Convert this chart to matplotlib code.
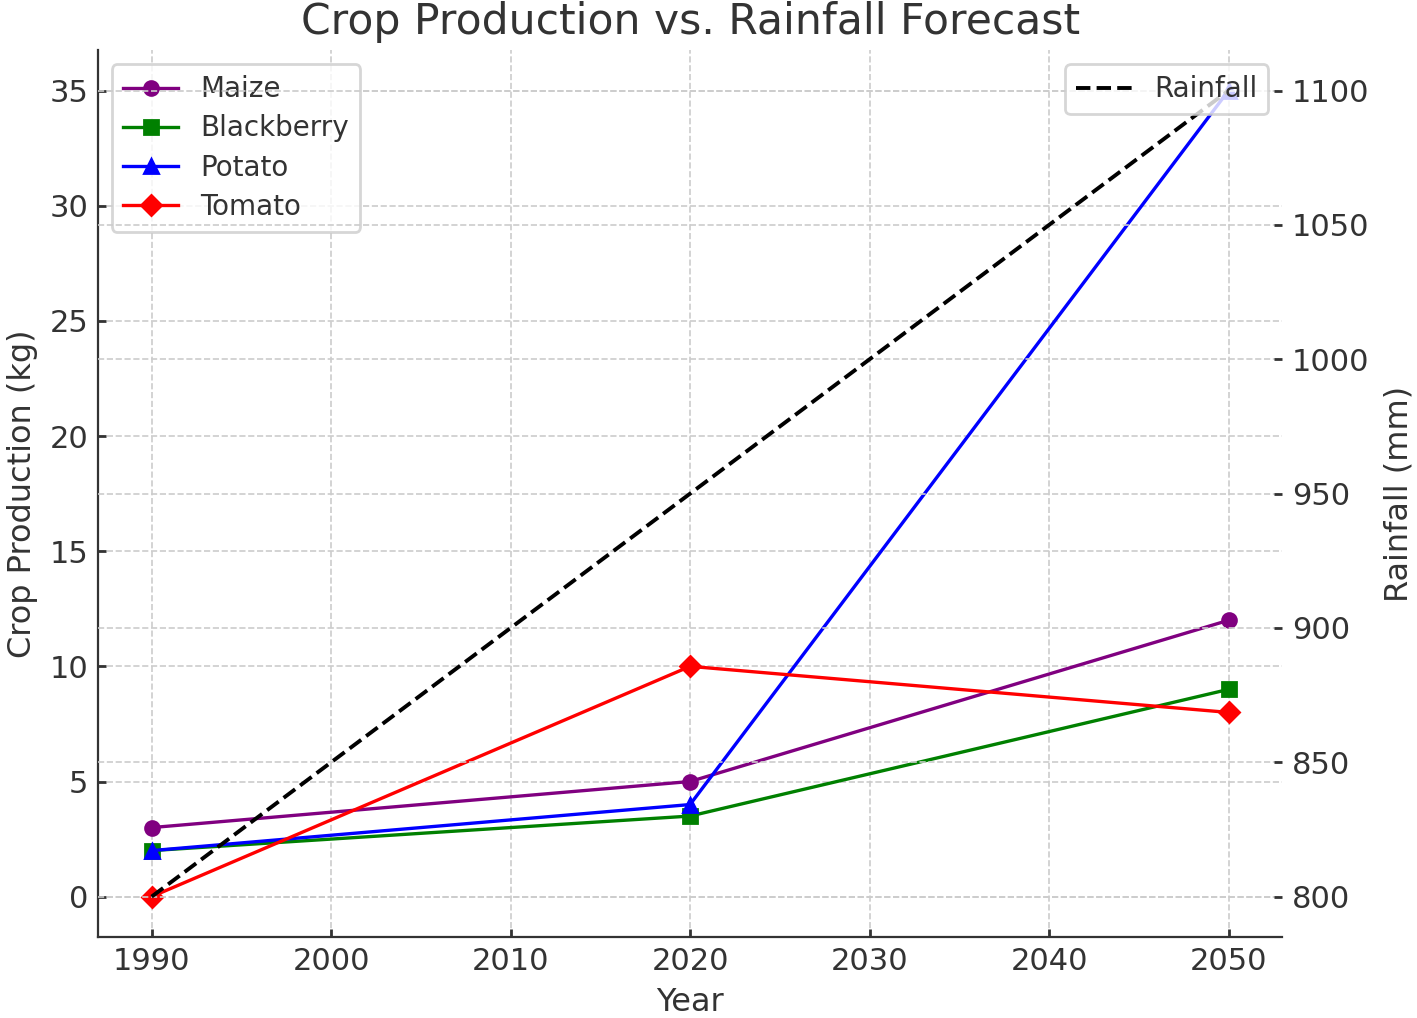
" 作物生産量と降雨量予測のグラフ "
import matplotlib
matplotlib.use('Agg')
import matplotlib.pyplot as plt

plt.rcParams['font.family'] = ['DejaVu Sans']
plt.rcParams['text.color'] = '#333333'
plt.rcParams['axes.labelcolor'] = '#333333'
plt.rcParams['xtick.color'] = '#333333'
plt.rcParams['ytick.color'] = '#333333'

YEARS = [1990, 2020, 2050]
MAIZE = [3, 5, 12]
BLACKBERRY = [2, 3.5, 9]
POTATO = [2, 4, 35]
TOMATO = [0, 10, 8]
RAINFALL = [800, 950, 1100]

CROPS = [('Maize', MAIZE, 'purple', 'o'),
         ('Blackberry', BLACKBERRY, 'green', 's'),
         ('Potato', POTATO, 'blue', '^'),
         ('Tomato', TOMATO, 'red', 'D')]

fig = plt.figure(figsize=(7.085, 5.09), dpi=200)
ax = fig.add_axes([0.069, 0.0796, 0.836, 0.871])
ax2 = ax.twinx()

for name, vals, col, mk in CROPS:
    ax.plot(YEARS, vals, color=col, marker=mk, label=name, lw=1.2, ms=5)
ax2.plot(YEARS, RAINFALL, color='black', ls='--', label='Rainfall', lw=1.4)

ax.set_title('Crop Production vs. Rainfall Forecast', fontsize=15.3)
ax.set_xlabel('Year', fontsize=11.5)
ax.set_ylabel('Crop Production (kg)', fontsize=11.5)
ax2.set_ylabel('Rainfall (mm)', fontsize=11.5, labelpad=5)

for a in (ax, ax2):
    a.grid(True, ls='--', color='#cccccc', lw=0.6)
    a.tick_params(direction='in', labelsize=11, length=3, width=1)
    a.spines['top'].set_visible(False)
    a.spines['right'].set_visible(False)
ax2.spines['left'].set_visible(False)
ax2.spines['bottom'].set_visible(False)
ax.spines['left'].set_color('#333333')
ax.spines['bottom'].set_color('#333333')
ax.set_yticks(range(0, 36, 5))
ax2.set_yticks(range(800, 1101, 50))

ax.legend(loc='upper left', fontsize=10, labelspacing=0.4)
ax2.legend(loc='upper right', fontsize=10)

fig.savefig('out.png')
